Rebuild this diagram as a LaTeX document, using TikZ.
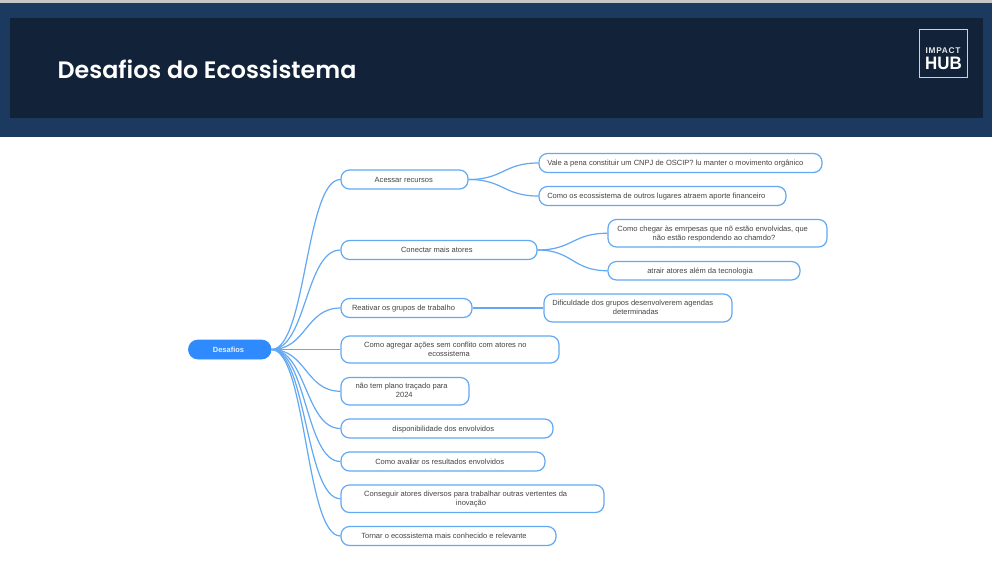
\documentclass[tikz,border=0pt]{standalone}
\usepackage{fontspec}
\setmainfont{Liberation Sans}
\newfontfamily\titlefont{Poppins}[BoldFont={Poppins SemiBold}]
\newfontfamily\logofont{Liberation Sans}[LetterSpace=9]
\definecolor{hdrouter}{HTML}{1C3A5F}
\definecolor{hdrinner}{HTML}{122339}
\definecolor{mmline}{HTML}{62A8F2}
\definecolor{mmroot}{HTML}{2F8BFD}
\definecolor{mmtxt}{HTML}{444444}
\definecolor{logoline}{HTML}{C9D2DC}
\newcommand\mmstrut{\rule[-1.8pt]{0pt}{8pt}}
\tikzset{
  mmbox/.style={draw=mmline,line width=1.2pt,rounded corners=8.5pt,fill=white,inner sep=0pt},
  rootbox/.style={draw=mmroot,line width=0.8pt,rounded corners=9.5pt,fill=mmroot,inner sep=0pt},
  mmtext/.style={text=mmtxt,font=\fontsize{7.53}{9}\selectfont,align=center,inner sep=0pt,
    execute at begin node=\mmstrut,execute at end node=\mmstrut},
  roottext/.style={mmtext,text=white!88!mmroot,font=\fontsize{7.5}{9}\selectfont\bfseries},
  link/.style={draw=mmline,line width=1.2pt},
}
\newcommand\mmnode[8][mmbox]{%
  \pgfmathsetmacro\bw{#5-#3}\pgfmathsetmacro\bh{#6-#4}%
  \pgfmathsetmacro\cx{(#3+#5)/2}\pgfmathsetmacro\cy{(#4+#6)/2}%
  \node[#1,minimum width=\bw pt,minimum height=\bh pt] (#2) at (\cx,\cy) {};%
  \node[mmtext] (#2t) at (#7,\cy+0.4) {#8};%
}
\newcommand\curvelink[3][35]{\draw[link] (#2.east) .. controls +(#1,0) and +(-#1,0) .. (#3.west);}
\begin{document}
\begin{tikzpicture}[x=1pt,y=-1pt]
\useasboundingbox (0,0) rectangle (992,562);
\fill[white] (0,0) rectangle (992,562);
\fill[hdrouter] (0,3) rectangle (992,137);
\fill[black!22] (0,0) rectangle (992,2.5);
\fill[hdrinner] (10,18) rectangle (983,118);
\node[anchor=base west,inner sep=0pt,text=white,font=\titlefont\fontsize{23.76}{28}\selectfont\bfseries] (title) at (57.5,78) {Desafios do Ecossistema};
\node[draw=logoline,line width=0.9pt,minimum width=48pt,minimum height=48pt,inner sep=0pt] (logo) at (943.5,53.5) {};
\node[anchor=base,inner sep=0pt,text=white!90!hdrinner,font=\logofont\fontsize{8.3}{9}\selectfont\bfseries] (logoa) at (943,53) {IMPACT};
\node[anchor=base,inner sep=0pt,text=white,xscale=0.94,font=\fontsize{18}{19}\selectfont\bfseries] (logob) at (943.5,69) {HUB};

\mmnode[rootbox]{root}{188.5}{340}{271}{359}{228.5}{}
\node[roottext] (roott2) at (228.5,349.9) {Desafios};
\mmnode{a}{341}{170}{468}{189}{403.8}{Acessar recursos}
\mmnode{a1}{539}{153.5}{822}{172.5}{675.3}{Vale a pena constituir um CNPJ de OSCIP? lu manter o movimento orgânico}
\mmnode{a2}{539}{186.5}{786}{205.5}{656.3}{Como os ecossistema de outros lugares atraem aporte financeiro}
\mmnode{b}{341}{240.5}{537}{259.5}{436.8}{Conectar mais atores}
\mmnode{b1}{608}{219.5}{827}{247}{714}{Como chegar às emrpesas que nõ estão envolvidas, que\hspace*{2.6pt}\\não estão respondendo ao chamdo?}
\mmnode{b2}{608}{261.5}{800}{280}{700}{atrair atores além da tecnologia}
\mmnode{c}{341}{298.5}{472}{317.5}{403.5}{Reativar os grupos de trabalho}
\mmnode{c1}{544}{294}{732}{322}{635.7}{Dificuldade dos grupos desenvolverem agendas\hspace*{6pt}\\determinadas}
\mmnode{d}{341}{336}{559}{363}{449}{Como agregar ações sem conflito com atores no\hspace*{7.4pt}\\ecossistema}
\mmnode{e}{341}{377.5}{469}{405}{404.3}{não tem plano traçado para\hspace*{5.4pt}\\2024}
\mmnode{f}{341}{419}{553}{438}{443.3}{disponibilidade dos envolvidos}
\mmnode{g}{341}{452}{545}{471}{439.7}{Como avaliar os resultados envolvidos}
\mmnode{h}{341}{485}{604}{512.5}{471}{Conseguir atores diversos para trabalhar outras vertentes da\hspace*{10.6pt}\\inovação}
\mmnode{i}{341}{526.5}{556}{545.5}{444}{Tornar o ecossistema mais conhecido e relevante}

\curvelink{root}{a}
\curvelink{root}{b}
\curvelink{root}{c}
\draw[link] (root.east) -- (d.west);
\curvelink{root}{e}
\curvelink{root}{f}
\curvelink{root}{g}
\curvelink{root}{h}
\curvelink{root}{i}
\curvelink{a}{a1}
\curvelink{a}{a2}
\curvelink{b}{b1}
\curvelink{b}{b2}
\draw[link] (c.east) -- (c1.west);
\end{tikzpicture}
\end{document}
